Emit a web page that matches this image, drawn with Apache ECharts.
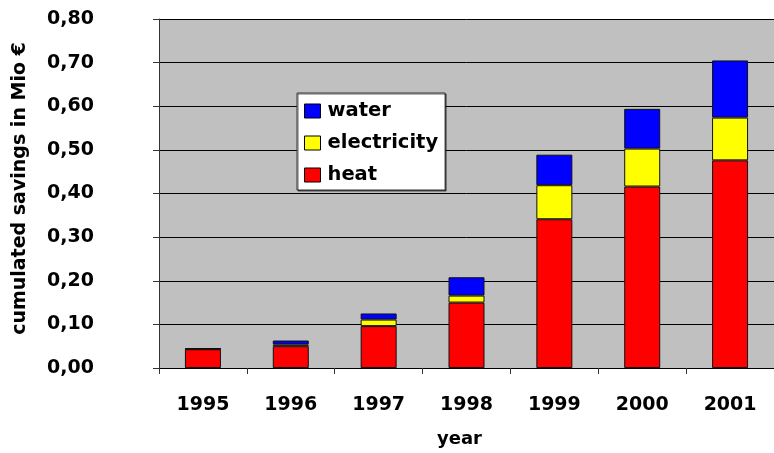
<!DOCTYPE html>
<html>
<head>
<meta charset="utf-8">
<script src="https://cdn.jsdelivr.net/npm/echarts@6/dist/echarts.min.js"></script>
<style>
  html, body { margin: 0; padding: 0; background: #ffffff; }
  #chart { width: 774px; height: 453px; }
</style>
</head>
<body>
<div id="chart"></div>
<script>
// Cumulated savings per year, split by source (Mio €)
const years = ['1995', '1996', '1997', '1998', '1999', '2000', '2001'];
const heat = [0.043, 0.050, 0.096, 0.150, 0.341, 0.416, 0.476];
const electricity = [0.001, 0.004, 0.015, 0.016, 0.078, 0.087, 0.098];
const water = [0.001, 0.009, 0.014, 0.042, 0.070, 0.091, 0.131];
const legendOrder = ['water', 'electricity', 'heat'];

const FONT = 'DejaVu Sans';
const chart = echarts.init(document.getElementById('chart'), null, { renderer: 'canvas' });

function stackSeries(name, values, color) {
  return {
    name: name,
    type: 'bar',
    stack: 'savings',
    data: values,
    barWidth: 36,
    itemStyle: { color: color, borderColor: '#111111', borderWidth: 1 },
    emphasis: { disabled: true }
  };
}

chart.setOption({
  animation: false,
  backgroundColor: '#ffffff',
  textStyle: { fontFamily: FONT },
  grid: {
    left: 159,
    top: 19,
    width: 624,
    bottom: 85,
    show: true,
    backgroundColor: '#c0c0c0',
    borderWidth: 0
  },
  legend: {
    data: legendOrder,
    orient: 'vertical',
    left: 297,
    top: 93,
    padding: [8, 7, 5, 7],
    itemGap: 12,
    itemWidth: 16,
    itemHeight: 14,
    backgroundColor: '#ffffff',
    borderColor: '#333333',
    borderWidth: 1,
    shadowColor: 'rgba(0,0,0,0.6)',
    shadowOffsetX: 1,
    shadowOffsetY: 1,
    shadowBlur: 0,
    icon: 'rect',
    selectedMode: false,
    itemStyle: { borderColor: '#000000', borderWidth: 1 },
    textStyle: { fontFamily: FONT, fontWeight: 'bold', fontSize: 19.5, color: '#000000', padding: [0, 0, 0, 2] }
  },
  xAxis: {
    type: 'category',
    data: years,
    name: 'year',
    nameLocation: 'middle',
    nameGap: 62,
    nameTextStyle: { fontFamily: FONT, fontWeight: 'bold', fontSize: 18, color: '#000000', padding: [0, 14, 0, 0] },
    axisLine: { show: true, lineStyle: { color: '#000000', width: 1 } },
    axisTick: { show: true, length: 6, lineStyle: { color: '#333333' } },
    axisLabel: { margin: 28, fontFamily: FONT, fontWeight: 'bold', fontSize: 19, color: '#000000' },
    splitLine: { show: false }
  },
  yAxis: {
    type: 'value',
    min: 0,
    max: 0.8,
    interval: 0.1,
    name: 'cumulated savings in Mio €',
    nameLocation: 'middle',
    nameRotate: 90,
    nameGap: 129,
    nameTextStyle: { fontFamily: FONT, fontWeight: 'bold', fontSize: 19, color: '#000000', padding: [0, 0, 0, 10] },
    axisLine: { show: true, lineStyle: { color: '#333333', width: 1 } },
    axisTick: { show: true, length: 6, lineStyle: { color: '#333333' } },
    axisLabel: {
      margin: 65,
      fontFamily: FONT,
      fontWeight: 'bold',
      fontSize: 19,
      color: '#000000',
      formatter: v => v.toFixed(2).replace('.', ',')
    },
    splitLine: { show: true, lineStyle: { color: '#000000', width: 1 } }
  },
  series: [
    stackSeries('heat', heat, '#ff0000'),
    stackSeries('electricity', electricity, '#ffff00'),
    stackSeries('water', water, '#0000ff')
  ]
});
</script>
</body>
</html>
